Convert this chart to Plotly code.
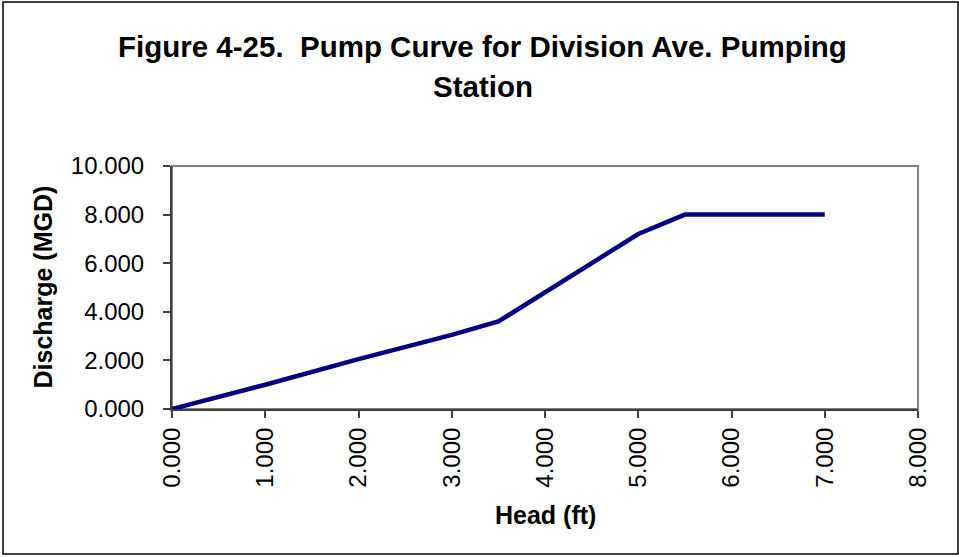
import plotly.graph_objects as go

# Data
head_ft = [0.0, 1.0, 2.0, 3.0, 3.5, 5.0, 5.5, 7.0]
discharge_mgd = [0.0, 1.0, 2.05, 3.05, 3.6, 7.2, 8.0, 8.0]

x_ticks = [0, 1, 2, 3, 4, 5, 6, 7, 8]
y_ticks = [0, 2, 4, 6, 8, 10]

title_line1 = "Figure 4-25.  Pump Curve for Division Ave. Pumping"
title_line2 = "Station"
x_title = "Head (ft)"
y_title = "Discharge (MGD)"

W, H = 959, 557
L, R, T, B = 172, 41, 166, 148
PW, PH = W - L - R, H - T - B


def px_x(px):
    return (px - L) / PW


def px_y(py):
    return (H - B - py) / PH


FONT = "Liberation Sans, Arial, sans-serif"

fig = go.Figure()
fig.add_trace(go.Scatter(
    x=head_ft, y=discharge_mgd, mode="lines",
    line=dict(color="#000080", width=4.5),
    hoverinfo="x+y", showlegend=False,
))

axis_common = dict(
    showgrid=False, zeroline=False, showline=True,
    linecolor="#404040", linewidth=2,
    ticks="outside", ticklen=7, tickwidth=1.5, tickcolor="#404040",
    tickformat=".3f",
)

fig.update_xaxes(range=[0, 8], tickvals=x_ticks, tickangle=-90,
                 tickfont=dict(family=FONT, size=24, color="black"),
                 **axis_common)
fig.update_yaxes(range=[0, 10], tickvals=y_ticks,
                 tickfont=dict(family=FONT, size=24, color="black"),
                 ticklabelstandoff=14,
                 **axis_common)

shapes = [
    # plot-area frame (grey)
    dict(type="rect", xref="paper", yref="paper", x0=0, x1=1, y0=0, y1=1,
         line=dict(color="#808080", width=2), layer="below"),
    # chart outer border
    dict(type="rect", xref="paper", yref="paper",
         x0=px_x(3), x1=px_x(958), y0=px_y(554), y1=px_y(2),
         line=dict(color="black", width=1.5), layer="below"),
]

annotations = [
    dict(text=title_line1, xref="paper", yref="paper",
         x=px_x(482.5), y=px_y(47), xanchor="center", yanchor="middle",
         showarrow=False, font=dict(family=FONT, size=29.5, color="black", weight="bold")),
    dict(text=title_line2, xref="paper", yref="paper",
         x=px_x(482.5), y=px_y(86.5), xanchor="center", yanchor="middle",
         showarrow=False, font=dict(family=FONT, size=29.5, color="black", weight="bold")),
    dict(text=x_title, xref="paper", yref="paper",
         x=0.5, y=px_y(515), xanchor="center", yanchor="middle",
         showarrow=False, font=dict(family=FONT, size=25, color="black", weight="bold")),
    dict(text=y_title, xref="paper", yref="paper",
         x=px_x(42), y=px_y(287.5), xanchor="center", yanchor="middle",
         textangle=-90,
         showarrow=False, font=dict(family=FONT, size=25, color="black", weight="bold")),
]

fig.update_layout(
    width=W, height=H,
    margin=dict(l=L, r=R, t=T, b=B, pad=0),
    paper_bgcolor="white", plot_bgcolor="white",
    shapes=shapes, annotations=annotations,
    font=dict(family=FONT, color="black"),
    showlegend=False,
)

fig.write_html("out.html",
               config={"displayModeBar": False},
               post_script="document.body.style.margin='0';document.body.style.overflow='hidden';")
